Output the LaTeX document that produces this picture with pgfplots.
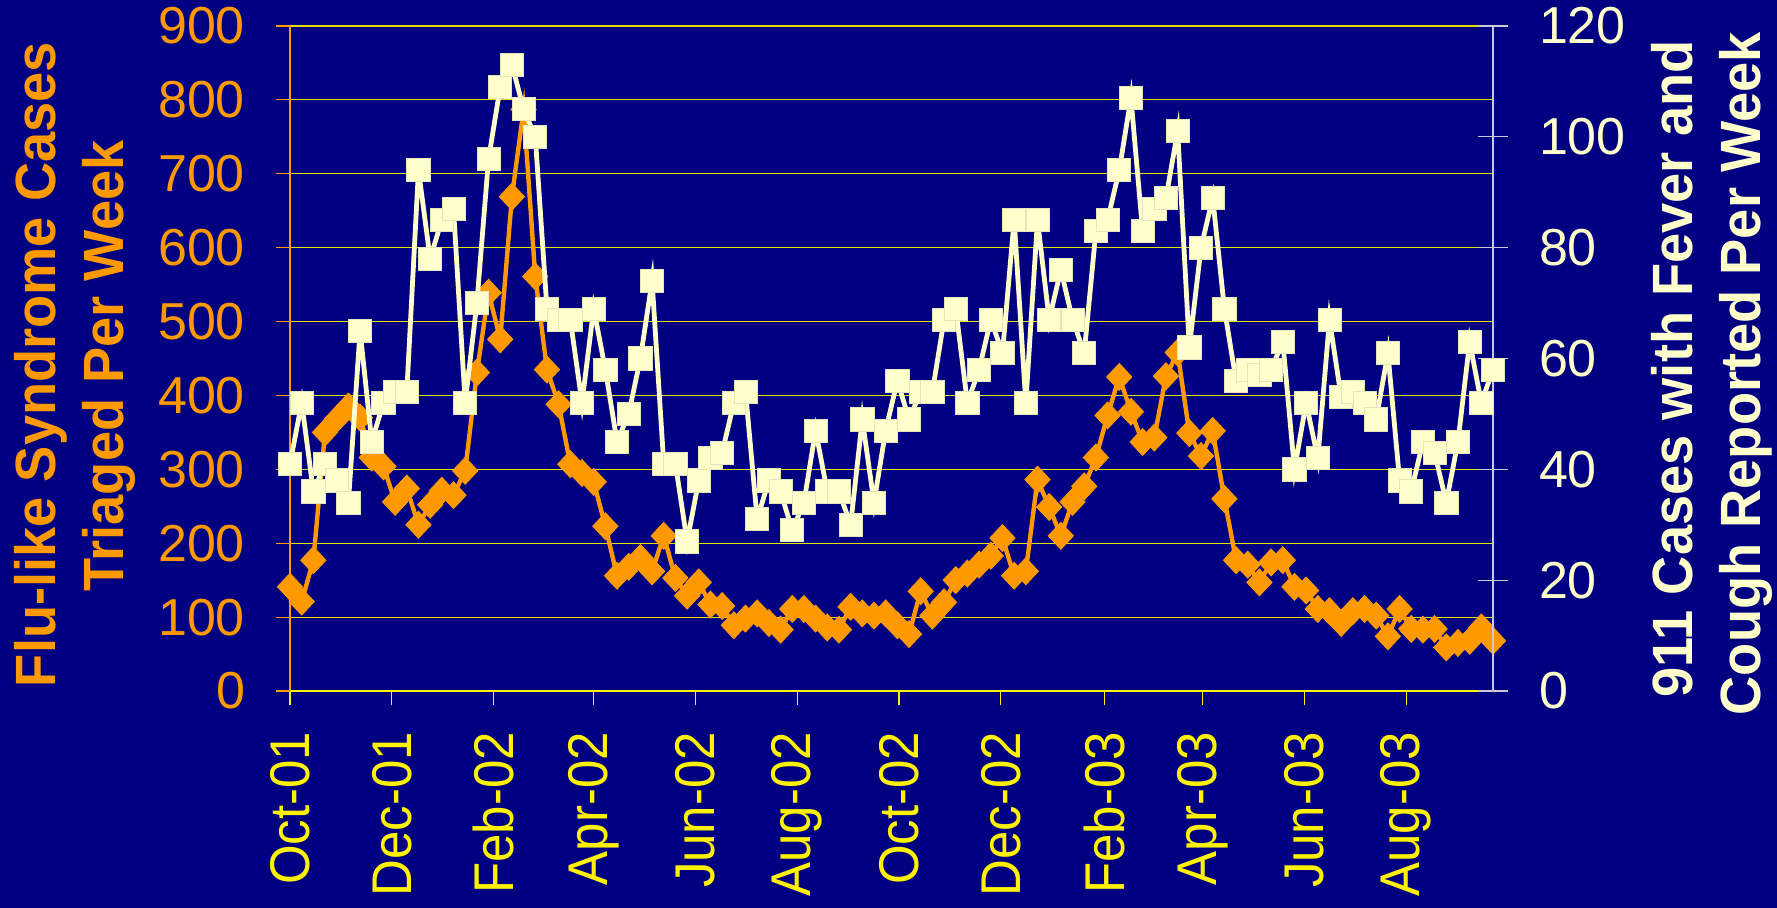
\documentclass[border=0pt]{standalone}
\usepackage{fontspec}
\setmainfont{Liberation Sans}
\newfontfamily\titlefont[FakeStretch=0.955]{Liberation Sans}
\newfontfamily\xfont[FakeStretch=0.91]{Liberation Sans}
\usepackage{pgfplots}
\pgfplotsset{compat=1.18}
\usepackage{pgfplotstable}
\definecolor{bg}{RGB}{0,0,128}
\definecolor{flu}{RGB}{255,153,0}
\definecolor{cream}{RGB}{255,255,204}
\definecolor{gridc}{RGB}{225,225,0}
\definecolor{raxis}{RGB}{200,200,215}

\pgfplotstableread{
day flu calls
0 141 41
7 121 52
14 177 36
21 350 41
28 368 38
35 385 34
42 370 65
49 316 45
56 304 52
63 256 54
70 274 54
77 225 94
84 252 78
91 271 85
98 265 87
105 298 52
112 431 70
119 539 96
126 476 109
133 669 113
140 787 105
147 561 100
154 435 69
161 388 67
168 307 67
175 295 52
182 283 69
189 223 58
196 156 45
203 168 50
210 180 60
217 162 74
224 210 41
231 153 41
238 129 27
245 147 38
252 117 42
259 115 43
266 89 52
273 98 54
280 105 31
287 92 38
294 83 36
301 111 29
308 111 34
315 98 47
322 86 36
329 83 36
336 114 30
343 105 49
350 102 34
357 105 47
364 89 56
371 77 49
378 135 54
385 102 54
392 120 67
399 150 69
406 159 52
413 171 58
420 183 67
427 207 61
434 156 85
441 162 52
448 286 85
455 249 67
462 210 76
469 256 67
476 277 61
483 316 83
490 373 85
497 425 94
504 378 107
511 337 83
518 343 87
525 426 89
532 458 101
539 349 62
546 318 80
553 352 89
560 260 69
567 177 56
574 171 58
581 147 57
588 174 58
595 177 63
602 141 40
609 136 52
616 111 42
623 108 67
630 92 53
637 108 54
644 111 52
651 102 49
658 74 61
665 111 38
672 84 36
679 83 45
686 84 43
693 59 34
700 65 45
707 68 63
714 86 52
721 68 58
}\data

\begin{document}
\begin{tikzpicture}
\useasboundingbox (0,0) rectangle (888.5pt,454pt);
\fill[bg] (0,0) rectangle (888.5pt,454pt);
\begin{axis}[
  at={(145pt,108.5pt)}, anchor=south west, scale only axis,
  width=601.5pt, height=332.5pt,
  xmin=0, xmax=721, ymin=0, ymax=900,
  clip=false,
  axis x line=bottom, axis y line=left,
  x axis line style={yellow, line width=1pt, -},
  y axis line style={flu, line width=1pt, -},
  xtick={0,61,122,182,243,304,365,426,488,547,608,669},
  xticklabels={Oct-01,Dec-01,Feb-02,Apr-02,Jun-02,Aug-02,Oct-02,Dec-02,Feb-03,Apr-03,Jun-03,Aug-03},
  ytick={0,100,...,900},
  ymajorgrids, grid style={gridc, line width=0.6pt},
  tick align=outside, major tick length=7pt,
  x tick style={yellow, line width=0.6pt},
  y tick style={flu, line width=0.6pt},
  xticklabel style={rotate=90, anchor=east, xshift=-10pt, text=yellow, font=\xfont\fontsize{28}{28}\selectfont},
  yticklabel style={text=flu, xshift=-12pt, font=\fontsize{26}{26}\selectfont},
  /pgf/number format/assume math mode=true,
]
\addplot[flu, line width=2.2pt, mark=diamond*, mark size=6.75pt,
  mark options={xscale=1.25, solid, fill=flu, draw=flu, line width=0.4pt}]
  table[x=day, y=flu] {\data};
\end{axis}
\begin{axis}[
  at={(145pt,108.5pt)}, anchor=south west, scale only axis,
  width=601.5pt, height=332.5pt,
  xmin=0, xmax=721, ymin=0, ymax=120,
  clip=false,
  axis x line=none, axis y line=right,
  y axis line style={raxis, line width=1pt, -},
  xtick=\empty,
  ytick={0,20,...,120},
  tick align=center, major tick length=15pt,
  y tick style={raxis, line width=0.6pt},
  yticklabel style={text=cream, xshift=12pt, font=\fontsize{26}{26}\selectfont},
  /pgf/number format/assume math mode=true,
]
\addplot[cream, line width=2.4pt, mark=square*, mark size=5.8pt,
  mark options={solid, fill=cream, draw=cream!80!gray, line width=0.4pt, rounded corners=1.2pt}]
  table[x=day, y=calls] {\data};
\end{axis}
\node[rotate=90, anchor=base, text=flu, font=\titlefont\bfseries\fontsize{28.4}{34}\selectfont] at (27.5pt,271.75pt) {Flu-like Syndrome Cases};
\node[rotate=90, anchor=base, text=flu, font=\titlefont\bfseries\fontsize{28.4}{34}\selectfont] at (61.5pt,271pt) {Triaged Per Week};
\node[rotate=90, anchor=base, text=cream, font=\titlefont\bfseries\fontsize{28.4}{34}\selectfont] at (846pt,269.5pt) {911 Cases with Fever and};
\node[rotate=90, anchor=base, text=cream, font=\titlefont\bfseries\fontsize{28.4}{34}\selectfont] at (880pt,267.2pt) {Cough Reported Per Week};
\end{tikzpicture}
\end{document}
